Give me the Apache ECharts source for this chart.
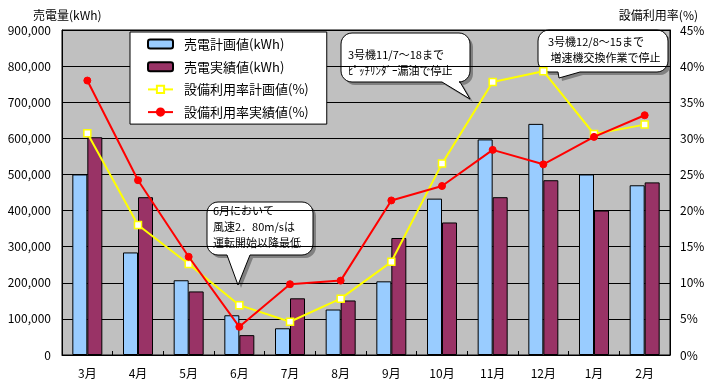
<!DOCTYPE html>
<html>
<head>
<meta charset="utf-8">
<script src="https://cdn.jsdelivr.net/npm/echarts@6/dist/echarts.min.js"></script>
<style>
html,body{margin:0;padding:0;background:#fff;}
#c{width:709px;height:389px;}
</style>
</head>
<body>
<div id="c"></div>
<script>
const months = ['3月','4月','5月','6月','7月','8月','9月','10月','11月','12月','1月','2月'];
const planKWh = [500000, 284000, 207000, 110000, 74000, 126000, 204000, 433000, 597000, 640000, 500000, 470000];
const actualKWh = [603000, 437000, 176000, 55000, 157000, 151000, 324000, 367000, 437000, 484000, 400000, 478000];
const planRate = [30.7, 18.0, 12.6, 6.9, 4.6, 7.8, 12.9, 26.5, 37.8, 39.3, 30.6, 31.9];
const actualRate = [38.0, 24.2, 13.6, 3.9, 9.8, 10.3, 21.4, 23.4, 28.4, 26.4, 30.2, 33.2];
const seriesNames = ['売電計画値(kWh)', '売電実績値(kWh)', '設備利用率計画値(%)', '設備利用率実績値(%)'];
const notes = [
  '3号機11/7～18まで\nﾋﾟｯﾁﾘﾝﾀﾞｰ漏油で停止',
  '3号機12/8～15まで\n 増速機交換作業で停止',
  '6月において\n風速2．80m/sは\n運転開始以降最低'
];

const FONT = '"Noto Sans CJK JP", "Noto Sans", sans-serif';

function bubblePoints(x, y, w, h, r, b1, tip, b2) {
  const pts = [];
  function arc(cx, cy, a0, a1) {
    const n = 6;
    for (let i = 0; i <= n; i++) {
      const a = a0 + (a1 - a0) * i / n;
      pts.push([cx + r * Math.cos(a), cy + r * Math.sin(a)]);
    }
  }
  arc(x + r, y + r, Math.PI, Math.PI * 1.5);
  arc(x + w - r, y + r, Math.PI * 1.5, Math.PI * 2);
  arc(x + w - r, y + h - r, 0, Math.PI * 0.5);
  if (tip) { pts.push(b2); pts.push(tip); pts.push(b1); }
  arc(x + r, y + h - r, Math.PI * 0.5, Math.PI);
  return pts;
}
function bubble(x, y, w, h, b1, tip, b2, text, tx, ty) {
  const pts = bubblePoints(x, y, w, h, 11, b1, tip, b2);
  const sh = pts.map(p => [p[0] + 3, p[1] + 3]);
  return {
    type: 'group', z: 100, children: [
      { type: 'polygon', shape: { points: sh }, style: { fill: '#808080', stroke: null } },
      { type: 'polygon', shape: { points: pts }, style: { fill: '#ffffff', stroke: '#000', lineWidth: 1 } },
      { type: 'text', style: { text: text, x: tx, y: ty, font: '11px ' + FONT, fill: '#000', lineHeight: 16 } }
    ]
  };
}

const chart = echarts.init(document.getElementById('c'), null, { renderer: 'canvas' });
chart.setOption({
  animation: false,
  backgroundColor: '#ffffff',
  textStyle: { fontFamily: FONT },
  grid: { left: 62, right: 39, top: 30, bottom: 34, show: true, backgroundColor: '#c0c0c0', borderColor: '#000', borderWidth: 1 },
  legend: {
    orient: 'vertical', left: 130, top: 32,
    backgroundColor: '#ffffff', borderColor: '#000', borderWidth: 1,
    padding: [4, 18, 4, 17], itemGap: 6.7,
    itemWidth: 25, itemHeight: 9,
    textStyle: { fontSize: 13, color: '#000', lineHeight: 16, padding: [0, 0, 0, 6], fontFamily: FONT },
    data: seriesNames
  },
  xAxis: {
    type: 'category', data: months,
    axisLine: { lineStyle: { color: '#000', width: 1 } },
    axisTick: { show: true, inside: true, length: 4, lineStyle: { color: '#000' } },
    axisLabel: { color: '#000', fontSize: 12, margin: 12 },
    splitLine: { show: false }
  },
  yAxis: [
    {
      type: 'value', min: 0, max: 900000, interval: 100000,
      name: '売電量(kWh)', nameLocation: 'end', nameGap: 9,
      nameTextStyle: { color: '#000', fontSize: 12, align: 'left', padding: [0, 0, 0, -29] },
      axisLine: { show: true, lineStyle: { color: '#000' } },
      axisTick: { show: false },
      axisLabel: { color: '#000', fontSize: 12, margin: 11, formatter: v => v.toLocaleString('en-US') },
      splitLine: { show: true, lineStyle: { color: '#000', width: 1 } }
    },
    {
      type: 'value', min: 0, max: 45, interval: 5,
      name: '設備利用率(%)', nameLocation: 'end', nameGap: 9,
      nameTextStyle: { color: '#000', fontSize: 12, align: 'right', padding: [0, -28, 0, 0] },
      axisLine: { show: true, lineStyle: { color: '#000' } },
      axisTick: { show: false },
      axisLabel: { color: '#000', fontSize: 12, margin: 10, formatter: '{value}%' },
      splitLine: { show: false }
    }
  ],
  series: [
    { name: seriesNames[0], type: 'bar', data: planKWh, barWidth: 15, barGap: '0%',
      itemStyle: { color: '#99ccff', borderColor: '#000', borderWidth: 1 } },
    { name: seriesNames[1], type: 'bar', data: actualKWh, barWidth: 15, barGap: '0%',
      itemStyle: { color: '#993366', borderColor: '#000', borderWidth: 1 } },
    { name: seriesNames[2], type: 'line', yAxisIndex: 1, data: planRate, z: 5,
      symbol: 'rect', symbolSize: 7, showAllSymbol: true,
      lineStyle: { color: '#ffff00', width: 2 },
      itemStyle: { color: '#ffffff', borderColor: '#ffff00', borderWidth: 1.5 } },
    { name: seriesNames[3], type: 'line', yAxisIndex: 1, data: actualRate, z: 6,
      symbol: 'circle', symbolSize: 7, showAllSymbol: true,
      lineStyle: { color: '#ff0000', width: 2 },
      itemStyle: { color: '#ff0000', borderColor: '#ff0000', borderWidth: 1 } }
  ],
  graphic: [
    bubble(341, 33, 129, 49, [442, 82], [470, 99], [460, 82], notes[0], 348, 47),
    bubble(538, 30, 130, 42, [558, 72], [559, 78], [580, 72], notes[1], 548, 34),
    bubble(207, 202, 106, 53, [227, 255], [238, 285], [250, 255], notes[2], 213, 203)
  ]
});
</script>
</body>
</html>
